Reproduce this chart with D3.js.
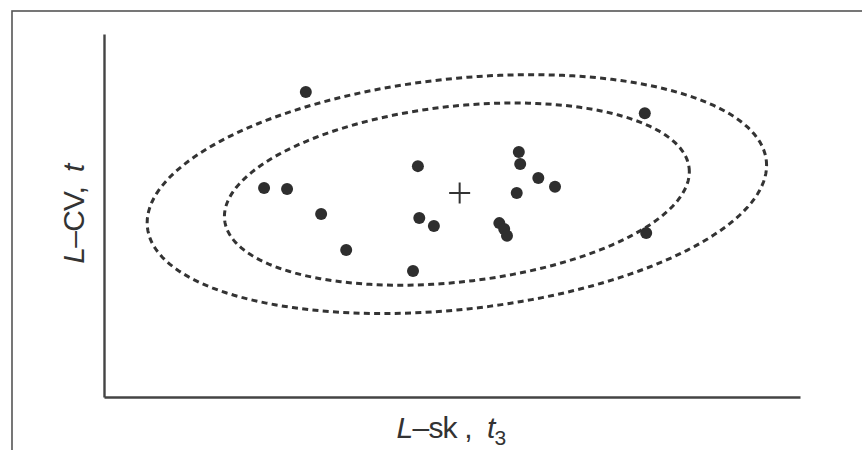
<!DOCTYPE html>
<html>
<head>
<meta charset="utf-8">
<script src="https://cdn.jsdelivr.net/npm/d3@7"></script>
<style>
  body { margin: 0; background: #fff; }
  svg { display: block; font-family: "Liberation Sans", Arial, sans-serif; }
  text { white-space: pre; }
</style>
</head>
<body>
<div class="interactive-wrapper"></div>
<script>
// sites, L-skewness (t3) and L-CV (t), in arbitrary chart units 0-100
const lsk = [29.0, 77.7, 23.0, 26.3, 31.2, 34.8, 45.1, 45.3, 47.4, 44.4, 59.6, 59.8, 62.4, 64.8, 59.3, 56.8, 57.5, 57.9, 77.9];
const lcv = [84.0, 78.2, 57.6, 57.3, 50.4, 40.5, 63.6, 49.3, 47.1, 34.7, 67.5, 64.2, 60.3, 57.9, 56.2, 47.9, 46.3, 44.4, 45.2];

// regional mean (the cross)
const meanLsk = [51.1];
const meanLcv = [56.2];

// confidence ellipses around the mean: half-widths, half-heights, phase
const ellipseRx = [44.5, 33.4];
const ellipseRy = [32.9, 25.1];
const ellipsePhase = [1.328, 1.323];
const ellipseCx = [50.7, 50.7];
const ellipseCy = [55.9, 55.9];

const width = 862, height = 450;

const svg = d3.select('.interactive-wrapper').append('svg')
  .attr('width', width)
  .attr('height', height);

// scanned figure frame
svg.append('rect')
  .attr('x', 12).attr('y', 11)
  .attr('width', 900).attr('height', 500)
  .attr('fill', 'none')
  .attr('stroke', '#555')
  .attr('stroke-width', 1.6);

let xScale = d3.scaleLinear()
  .domain([0, 100])
  .range([104, 800]);

let yScale = d3.scaleLinear()
  .domain([0, 100])
  .range([397, 34]);

const xAxis = svg.append('g')
  .attr('transform', 'translate(0,' + yScale(0) + ')')
  .call(d3.axisBottom(xScale).ticks(0).tickSizeOuter(0));

const yAxis = svg.append('g')
  .attr('transform', 'translate(' + xScale(0) + ',0)')
  .call(d3.axisLeft(yScale).ticks(0).tickSizeOuter(0));

svg.selectAll('.domain')
  .attr('stroke', '#444')
  .attr('stroke-width', 2.4);

// ellipses
const steps = d3.range(0, 361, 2).map(d => d * Math.PI / 180);

let line = d3.line()
  .x(d => xScale(d[0]))
  .y(d => yScale(d[1]))
  .curve(d3.curveLinearClosed);

ellipseRx.map((rx, i) => {
  const pts = steps.map(t => [
    ellipseCx[i] + rx * Math.cos(t),
    ellipseCy[i] + ellipseRy[i] * Math.cos(t - ellipsePhase[i])
  ]);
  svg.append('path')
    .datum(pts)
    .attr('d', line)
    .attr('fill', 'none')
    .attr('stroke', '#333')
    .attr('stroke-width', 3)
    .attr('stroke-dasharray', '6,4.3');
});

// sites
svg.selectAll('.site')
  .data(lsk)
  .enter().append('circle')
  .attr('class', 'site')
  .attr('cx', d => xScale(d))
  .attr('cy', (d, i) => yScale(lcv[i]))
  .attr('r', 6)
  .attr('fill', '#2e2e2e');

// regional mean cross
const arm = 10.5;
meanLsk.map((m, i) => {
  const cx = xScale(m), cy = yScale(meanLcv[i]);
  svg.append('path')
    .attr('d', 'M' + (cx - arm) + ',' + cy + 'H' + (cx + arm) + 'M' + cx + ',' + (cy - arm) + 'V' + (cy + arm))
    .attr('stroke', '#333')
    .attr('stroke-width', 2);
});

// axis titles
const xt = svg.append('text')
  .attr('x', 451)
  .attr('y', 438)
  .attr('text-anchor', 'middle')
  .attr('font-size', 30)
  .attr('letter-spacing', -0.8)
  .attr('fill', '#333');
xt.append('tspan').attr('font-style', 'italic').text('L');
xt.append('tspan').text('–sk ,  ');
xt.append('tspan').attr('font-style', 'italic').text('t');
xt.append('tspan').attr('font-size', 21).attr('dy', 7).text('3');

const yt = svg.append('text')
  .attr('transform', 'translate(84,214) rotate(-90)')
  .attr('text-anchor', 'middle')
  .attr('font-size', 30)
  .attr('letter-spacing', -0.8)
  .attr('fill', '#333');
yt.append('tspan').attr('font-style', 'italic').text('L');
yt.append('tspan').text('–CV,  ');
yt.append('tspan').attr('font-style', 'italic').text('t');
</script>
</body>
</html>
